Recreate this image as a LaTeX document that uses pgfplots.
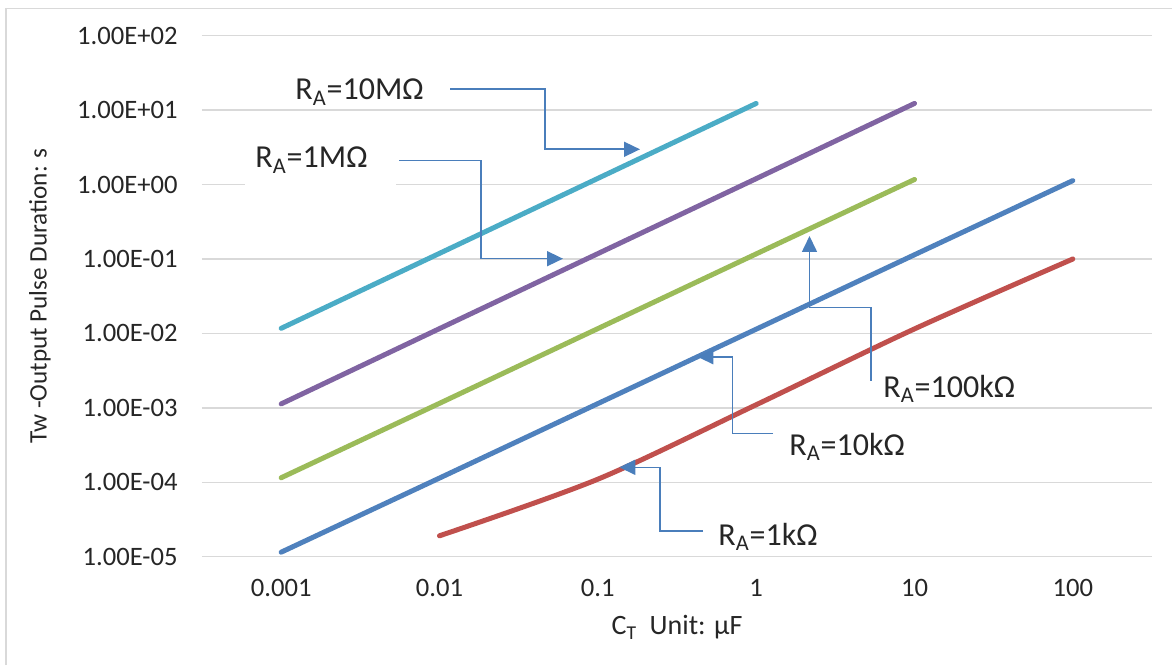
\documentclass[border=0pt]{standalone}
\usepackage{fontspec}
\setmainfont{Carlito}
\usepackage{pgfplots}
\pgfplotsset{compat=1.18}
\usetikzlibrary{arrows.meta}
\definecolor{cyanS}{HTML}{4BACC6}
\definecolor{purpleS}{HTML}{8064A2}
\definecolor{greenS}{HTML}{9BBB59}
\definecolor{blueS}{HTML}{4F81BD}
\definecolor{redS}{HTML}{C0504D}
\definecolor{gridc}{HTML}{D9D9D9}
\definecolor{arrowc}{HTML}{4A7EBB}
\definecolor{txt}{HTML}{262626}
\begin{document}
\begin{tikzpicture}
\useasboundingbox (0,0) rectangle (586pt,332.5pt);
\draw[gridc, line width=0.75pt] (3pt,0) -- (3pt,328.35pt) -- (586pt,328.35pt);
\begin{axis}[
  at={(101pt,54.15pt)}, anchor=south west,
  scale only axis, width=475pt, height=260.5pt,
  xmode=log, ymode=log,
  xmin=3.1623e-4, xmax=316.23, ymin=1e-5, ymax=100,
  axis line style={draw=none}, major tick length=0pt, minor tick length=0pt,
  tick style={draw=none},
  ymajorgrids, grid style={gridc, line width=0.75pt},
  xtick={0.001,0.01,0.1,1,10,100},
  xticklabels={0.001,0.01,0.1,1,10,100},
  ytick={1e-5,1e-4,1e-3,1e-2,1e-1,1,10,100},
  yticklabels={1.00E-05,1.00E-04,1.00E-03,1.00E-02,1.00E-01,1.00E+00,1.00E+01,1.00E+02},
  tick label style={font=\fontsize{13.3pt}{15pt}\selectfont, text=txt},
  xticklabel style={anchor=base, yshift=-20pt},
  yticklabel style={anchor=east, inner sep=0pt, xshift=-12pt},
  xlabel={C\textsubscript{T}\ \ Unit: µF},
  xlabel style={at={(axis description cs:0.5,-0.150)}, anchor=base, font=\fontsize{14pt}{16pt}\selectfont, text=txt},
  ylabel={Tw -Output Pulse Duration: s},
  ylabel style={at={(axis description cs:-0.1705,0.5)}, anchor=center, font=\fontsize{12.6pt}{15pt}\selectfont, text=txt},
  every axis plot/.append style={line width=2.5pt, line cap=round, line join=round},
  clip=false,
]
\addplot[cyanS] coordinates {(0.001,0.0117)(0.01,0.119)(0.1,1.21)(1,12.3)};
\addplot[purpleS] coordinates {(0.001,0.00113)(0.01,0.0116)(0.1,0.118)(1,1.2)(10,12.3)};
\addplot[greenS] coordinates {(0.001,0.000115)(0.01,0.00115)(0.1,0.0116)(1,0.117)(10,1.17)};
\addplot[blueS] coordinates {(0.001,0.0000115)(0.01,0.000114)(0.1,0.00114)(1,0.0114)(10,0.114)(100,1.13)};
\addplot[redS, smooth] coordinates {(0.01,0.0000191)(0.1,0.00011)(1,0.0011)(10,0.0115)(100,0.1)};
\end{axis}
\begin{scope}[x=0.5pt,y=-0.5pt,shift={(0pt,332.5pt)}]
\tikzset{conn/.style={arrowc, line width=0.8pt, -{Triangle[length=8pt,width=7.5pt]}}}
\tikzset{lab/.style={anchor=base west, inner sep=0pt, font=\fontsize{16pt}{19pt}\selectfont, text=txt}}
\fill[white] (245,138) rectangle (396,192);
\draw[conn] (450,89.3) -- (545,89.3) -- (545,149.3) -- (640,149.3);
\draw[conn] (399,160.7) -- (480.7,160.7) -- (480.7,258.7) -- (563,258.7);
\draw[conn] (870.7,380.7) -- (870.7,307.3) -- (809.5,307.3) -- (809.5,236);
\draw[conn] (773,433.3) -- (732.3,433.3) -- (732.3,356.7) -- (697.3,356.7);
\draw[conn] (703,530.7) -- (660,530.7) -- (660,467.3) -- (619.3,467.3);
\node[lab] at (295,100) {R\textsubscript{A}=10MΩ};
\node[lab] at (255,168) {R\textsubscript{A}=1MΩ};
\node[lab] at (883,397) {R\textsubscript{A}=100kΩ};
\node[lab] at (789,455) {R\textsubscript{A}=10kΩ};
\node[lab] at (718,545) {R\textsubscript{A}=1kΩ};
\end{scope}
\end{tikzpicture}
\end{document}
